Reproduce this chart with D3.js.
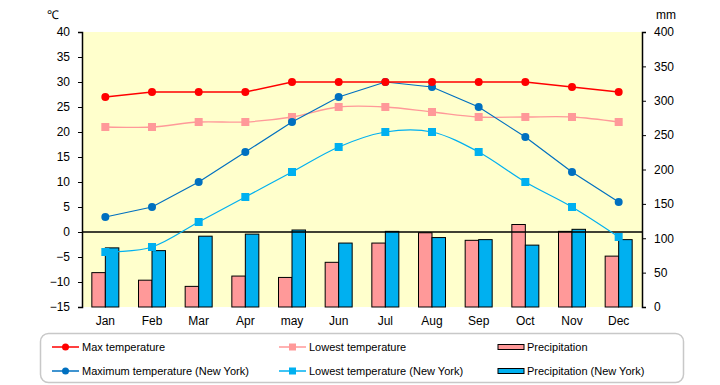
<!DOCTYPE html>
<html>
<head>
<meta charset="utf-8">
<script src="https://cdn.jsdelivr.net/npm/d3@7"></script>
<style>
  body { margin: 0; background: #fff; }
  text { font-family: "Liberation Sans", Arial, sans-serif; }
</style>
</head>
<body>
<div id="chart"></div>
<script>
const months = ["Jan", "Feb", "Mar", "Apr", "may", "Jun", "Jul", "Aug", "Sep", "Oct", "Nov", "Dec"];
const maxTemp = [27, 28, 28, 28, 30, 30, 30, 30, 30, 30, 29, 28];
const lowTemp = [21, 21, 22, 22, 23, 25, 25, 24, 23, 23, 23, 22];
const maxTempNY = [3, 5, 10, 16, 22, 27, 30, 29, 25, 19, 12, 6];
const lowTempNY = [-4, -3, 2, 7, 12, 17, 20, 20, 16, 10, 5, -1];
const precip = [50, 39, 30, 45, 43, 65, 93, 108, 97, 120, 110, 74];
const precipNY = [86, 82, 103, 106, 112, 93, 110, 101, 98, 90, 113, 98];
const tempTicks = [-15, -10, -5, 0, 5, 10, 15, 20, 25, 30, 35, 40];
const mmTicks = [0, 50, 100, 150, 200, 250, 300, 350, 400];

const W = 720, H = 385;
const plotLeft = 82, plotRight = 642, plotTop = 32, plotBottom = 307;

const svg = d3.select("#chart").append("svg")
    .attr("width", W)
    .attr("height", H);

const x = d3.scaleBand().domain(months).range([plotLeft, plotRight]);
const yT = d3.scaleLinear().domain([-15, 40]).range([plotBottom, plotTop]);
const yP = d3.scaleLinear().domain([0, 400]).range([plotBottom, plotTop]);

// plot background
svg.append("rect")
    .attr("x", plotLeft).attr("y", plotTop)
    .attr("width", plotRight - plotLeft).attr("height", plotBottom - plotTop)
    .attr("fill", "#ffffcc");

// bars
const bw = 13.5;
const bars = svg.append("g").attr("stroke", "#000").attr("stroke-width", 1);
bars.selectAll("rect.p")
    .data(precip)
    .enter().append("rect")
        .attr("x", (d, i) => x(months[i]) + x.bandwidth() / 2 - bw)
        .attr("y", d => yP(d))
        .attr("width", bw)
        .attr("height", d => yP(0) - yP(d))
        .attr("fill", "#ff9999");
bars.selectAll("rect.n")
    .data(precipNY)
    .enter().append("rect")
        .attr("x", (d, i) => x(months[i]) + x.bandwidth() / 2)
        .attr("y", d => yP(d))
        .attr("width", bw)
        .attr("height", d => yP(0) - yP(d))
        .attr("fill", "#00b0f0");

// zero line
svg.append("line")
    .attr("x1", plotLeft).attr("x2", plotRight)
    .attr("y1", yT(0)).attr("y2", yT(0))
    .attr("stroke", "#000").attr("stroke-width", 1.5);

// axes
const axL = svg.append("g")
    .attr("transform", `translate(${plotLeft},0)`)
    .call(d3.axisLeft(yT).tickValues(tempTicks).tickSize(4).tickPadding(8).tickFormat(d3.format("d")));
const axR = svg.append("g")
    .attr("transform", `translate(${plotRight},0)`)
    .call(d3.axisRight(yP).tickValues(mmTicks).tickSize(4).tickPadding(8).tickFormat(d3.format("d")));
[axL, axR].forEach(a => {
    a.select(".domain").attr("stroke", "#000").attr("stroke-width", 1.5);
    a.selectAll("text").style("font-size", "12px").attr("fill", "#000")
        .style("font-family", "Liberation Sans, Arial, sans-serif");
});
axL.selectAll("text").text(d => d < 0 ? "\u2212" + Math.abs(d) : d);

// month labels
svg.append("g")
    .selectAll("text")
    .data(months)
    .enter().append("text")
        .attr("x", d => x(d) + x.bandwidth() / 2)
        .attr("y", 325)
        .attr("text-anchor", "middle")
        .style("font-size", "12px")
        .text(d => d);

svg.append("text").attr("x", 47).attr("y", 19).style("font-size", "12px").text("\u2103");
svg.append("text").attr("x", 656).attr("y", 19).style("font-size", "12px").text("mm");

// lines (the two "lowest" series are smoothed, the max series are straight)
const cx = i => x(months[i]) + x.bandwidth() / 2;
const series = [
    { data: lowTemp, color: "#ff9999", shape: "square", smooth: true, w: 1.3 },
    { data: lowTempNY, color: "#00b0f0", shape: "square", smooth: true, w: 1.2 },
    { data: maxTempNY, color: "#0070c0", shape: "circle", smooth: false, w: 1.2 },
    { data: maxTemp, color: "#ff0000", shape: "circle", smooth: false, w: 1.5 }
];

series.forEach(s => {
    const line = d3.line()
        .x((d, i) => cx(i))
        .y(d => yT(d))
        .curve(s.smooth ? d3.curveCardinal.tension(0) : d3.curveLinear);
    svg.append("path")
        .datum(s.data)
        .attr("d", line)
        .attr("fill", "none")
        .attr("stroke", s.color)
        .attr("stroke-width", s.w);
    const g = svg.append("g").attr("fill", s.color);
    if (s.shape === "circle") {
        g.selectAll("circle").data(s.data).enter().append("circle")
            .attr("cx", (d, i) => cx(i))
            .attr("cy", d => yT(d))
            .attr("r", 4);
    } else {
        g.selectAll("rect").data(s.data).enter().append("rect")
            .attr("x", (d, i) => cx(i) - 4)
            .attr("y", d => yT(d) - 4)
            .attr("width", 8).attr("height", 8);
    }
});

// legend
svg.append("rect")
    .attr("x", 40.5).attr("y", 333.5)
    .attr("width", 643).attr("height", 49)
    .attr("rx", 8)
    .attr("fill", "#fff")
    .attr("stroke", "#c8c8c8")
    .attr("stroke-width", 1.5);

const legendItems = [
    { label: "Max temperature", color: "#ff0000", type: "circle", x: 52, y: 347 },
    { label: "Maximum temperature (New York)", color: "#0070c0", type: "circle", x: 52, y: 371 },
    { label: "Lowest temperature", color: "#ff9999", type: "square", x: 279, y: 347 },
    { label: "Lowest temperature (New York)", color: "#00b0f0", type: "square", x: 279, y: 371 },
    { label: "Precipitation", color: "#ff9999", type: "bar", x: 498, y: 347 },
    { label: "Precipitation (New York)", color: "#00b0f0", type: "bar", x: 498, y: 371 }
];
const lg = svg.append("g").selectAll("g")
    .data(legendItems)
    .enter().append("g")
        .attr("transform", d => `translate(${d.x},${d.y})`);
lg.filter(d => d.type !== "bar").append("line")
    .attr("x1", 0).attr("x2", 27)
    .attr("stroke", d => d.color).attr("stroke-width", 1.5);
lg.filter(d => d.type === "circle").append("circle")
    .attr("cx", 13.5).attr("r", 3.5).attr("fill", d => d.color);
lg.filter(d => d.type === "square").append("rect")
    .attr("x", 10).attr("y", -3.5).attr("width", 7).attr("height", 7)
    .attr("fill", d => d.color);
lg.filter(d => d.type === "bar").append("rect")
    .attr("x", 0).attr("y", -2.5).attr("width", 26).attr("height", 5)
    .attr("fill", d => d.color).attr("stroke", "#000").attr("stroke-width", 1);
lg.append("text")
    .attr("x", d => d.type === "bar" ? 29 : 30)
    .attr("y", 4)
    .style("font-size", "11px")
    .text(d => d.label);
</script>
</body>
</html>
